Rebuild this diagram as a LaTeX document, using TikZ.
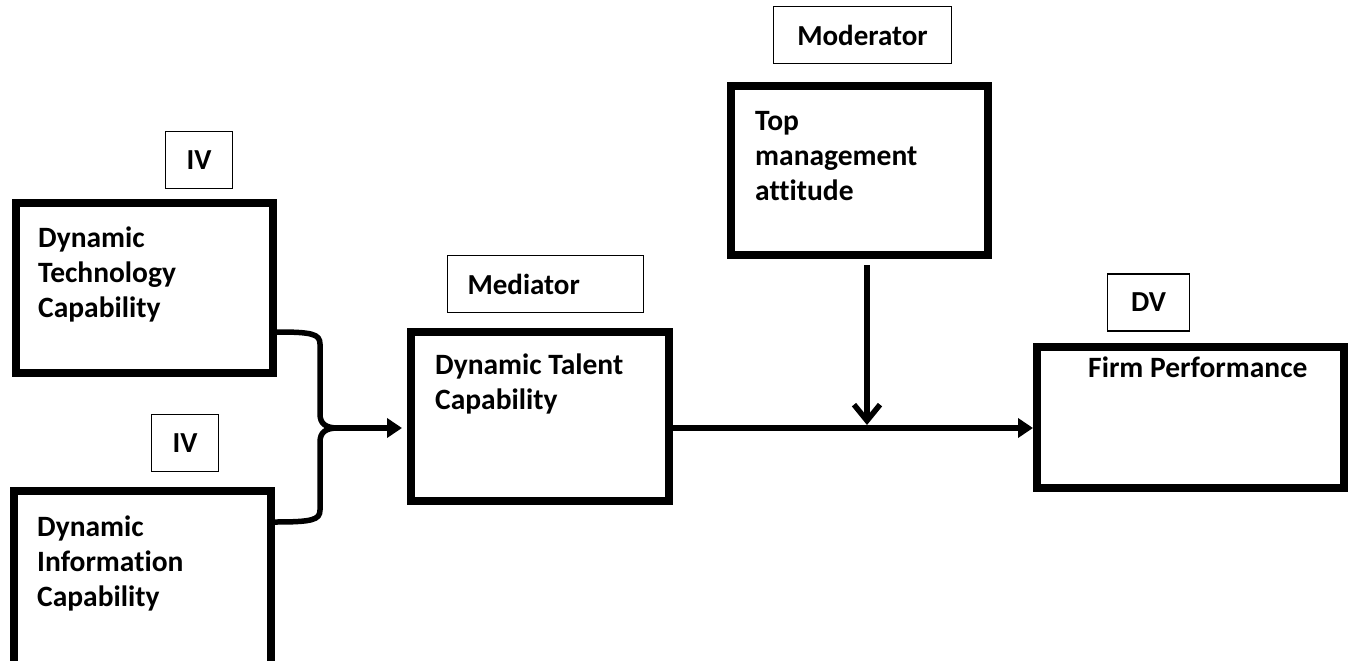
\documentclass[tikz,border=0pt]{standalone}
\usepackage{fontspec}
\setmainfont{Carlito}[Ligatures=NoCommon]
\usetikzlibrary{arrows.meta}
\usetikzlibrary{calc}

\tikzset{
  bigbox/.style={draw, line width=8pt, inner sep=0pt, outer sep=0pt},
  tagbox/.style={draw, line width=1.5pt, inner sep=0pt, outer sep=0pt, minimum height=57pt,
    font=\bfseries\fontsize{29}{35}\selectfont},
  boxtext/.style={anchor=north west, inner sep=0pt, align=left,
    font=\bfseries\fontsize{29.5}{35}\selectfont},
  conn/.style={line width=5.5pt},
  tip/.style={-{Triangle[length=15pt,width=19pt]}},
}

\begin{document}
\begin{tikzpicture}[x=1pt,y=-1pt]
\useasboundingbox (0,0) rectangle (1355,661);
\clip (0,0) rectangle (1355,661);
\fill[white] (0,0) rectangle (1355,661);

\node[bigbox, minimum width=257pt, minimum height=170pt] (dtc) at (144.5,288) {};
\node[bigbox, minimum width=257pt, minimum height=177pt] (dic) at (142.5,579.5) {};
\node[bigbox, minimum width=258pt, minimum height=169pt] (dtal) at (540,416.5) {};
\node[bigbox, minimum width=257pt, minimum height=169pt] (tma) at (859.5,170.5) {};
\node[bigbox, minimum width=307pt, minimum height=141pt] (fp) at (1190.5,417.5) {};

\node[boxtext] (dtclabel) at (38,227) {Dynamic\\Technology\\Capability};
\node[boxtext] (diclabel) at (37,516) {Dynamic\\Information\\Capability};
\node[boxtext] (dtallabel) at (435,354) {Dynamic Talent\\Capability};
\node[boxtext] (tmalabel) at (755,111) {Top\\management\\attitude};
\node[boxtext] (fplabel) at (1088,357) {Firm Performance};

\node[tagbox, minimum width=67pt] (iv1) at (199,160) {IV};
\node[tagbox, minimum width=67pt] (iv2) at (185,443) {IV};
\node[tagbox, text width=156pt, inner xsep=20pt, align=left] (med) at (545.5,284) {Mediator};
\node[tagbox, minimum width=178pt] (mod) at (862.5,35) {Moderator};
\node[tagbox, minimum width=82pt] (dv) at (1148.5,302.5) {DV};

\coordinate (axis) at (0,428);
\coordinate (fork) at (338,428);
\coordinate (hit) at (867,428);

\draw[conn] ($(dtc.south east)+(4,-41)$) .. controls (312,332) and (320,334) .. (320,344)
  -- (320,414) .. controls (320,424) and (326,428) .. (fork);
\draw[conn] ($(dic.north east)+(4,31)$) .. controls (312,522) and (320,520) .. (320,510)
  -- (320,442) .. controls (320,432) and (326,428) .. (fork);
\draw[conn, tip, shorten >=9pt] (fork) -- (dtal.west |- axis);

\draw[conn, -{Straight Barb[length=16pt,width=26pt]}, shorten <=10pt, shorten >=3pt] (hit |- tma.south) -- (hit);
\draw[conn, tip, shorten >=4pt] (dtal.east |- axis) -- (fp.west |- axis);
\end{tikzpicture}
\end{document}
